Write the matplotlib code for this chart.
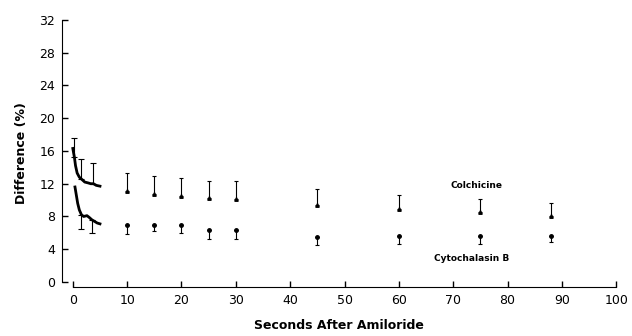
import matplotlib
matplotlib.use("Agg")
from matplotlib import pyplot as plt

# early continuous traces (0-5 s)
colch_curve_t = [0.0, 0.3, 0.5, 0.8, 1.2, 1.7, 2.2, 2.8, 3.3, 3.8, 4.3, 5.0]
colch_curve_v = [16.3, 15.2, 14.2, 13.3, 12.8, 12.5, 12.2, 12.1, 12.0, 12.0, 11.8, 11.7]
cyto_curve_t = [0.4, 0.6, 0.9, 1.2, 1.6, 2.0, 2.6, 3.0, 3.5, 4.0, 4.5, 5.0]
cyto_curve_v = [11.6, 10.8, 9.6, 8.8, 8.2, 8.0, 8.1, 7.9, 7.6, 7.4, 7.2, 7.1]

# error bars on the early traces
colch_early_t = [0.3, 1.5, 3.7]
colch_early_v = [15.2, 12.6, 12.0]
colch_early_err = [2.4, 2.4, 2.5]
cyto_early_t = [1.6, 3.6]
cyto_early_v = [8.2, 7.6]
cyto_early_err = [1.7, 1.6]

# discrete points
times = [10, 15, 20, 25, 30, 45, 60, 75, 88]
colch_v = [11.1, 10.8, 10.5, 10.2, 10.1, 9.4, 8.9, 8.5, 8.0]
colch_err = [2.2, 2.2, 2.2, 2.1, 2.2, 1.9, 1.7, 1.6, 1.7]
cyto_v = [7.0, 7.0, 6.9, 6.4, 6.3, 5.5, 5.6, 5.6, 5.6]
cyto_err = [1.1, 0.8, 0.9, 1.2, 1.1, 1.0, 0.9, 0.9, 0.7]

xticks = [0, 10, 20, 30, 40, 50, 60, 70, 80, 90, 100]
yticks = [0, 4, 8, 12, 16, 20, 24, 28, 32]

label_font = ['Liberation Sans Narrow', 'DejaVu Sans']

fig = plt.figure(figsize=(6.32, 3.36), dpi=100)
ax = fig.add_axes([0.098, 0.146, 0.877, 0.795])

ax.plot(colch_curve_t, colch_curve_v, color='black', lw=2)
ax.plot(cyto_curve_t, cyto_curve_v, color='black', lw=2)

ax.errorbar(colch_early_t, colch_early_v, yerr=[[0] * 3, colch_early_err], fmt='none',
            ecolor='black', elinewidth=0.8, capsize=2, capthick=0.8)
ax.errorbar(cyto_early_t, cyto_early_v, yerr=[cyto_early_err, [0] * 2], fmt='none',
            ecolor='black', elinewidth=0.8, capsize=2, capthick=0.8)

ax.errorbar(times, colch_v, yerr=[[0] * len(times), colch_err], fmt='^', ms=2.5,
            color='black', elinewidth=0.8, capsize=1.5, capthick=0.8)
ax.errorbar(times, cyto_v, yerr=[cyto_err, [0] * len(times)], fmt='o', ms=2.5,
            color='black', elinewidth=0.8, capsize=1.5, capthick=0.8)

ax.text(74.2, 11.8, 'Colchicine', family=label_font, fontsize=6.5, weight='bold', ha='center', va='center')
ax.text(73.4, 2.9, 'Cytochalasin B', family=label_font, fontsize=6.5, weight='bold', ha='center', va='center')

ax.set_xlim(-2, 100)
ax.set_ylim(-0.6, 32)
ax.spines['top'].set_visible(False)
ax.spines['right'].set_visible(False)
ax.spines['bottom'].set_bounds(0, 100)
ax.spines['left'].set_bounds(0, 32)
ax.set_xticks(xticks)
ax.set_yticks(yticks)
ax.tick_params(direction='in', length=4, width=1, labelsize=9, pad=5)

ax.set_xlabel('Seconds After Amiloride', family=label_font, fontsize=9, weight='bold', labelpad=9)
ax.set_ylabel('Difference (%)', family=label_font, fontsize=9, weight='bold', labelpad=8)

fig.savefig('out.png', dpi=100)
